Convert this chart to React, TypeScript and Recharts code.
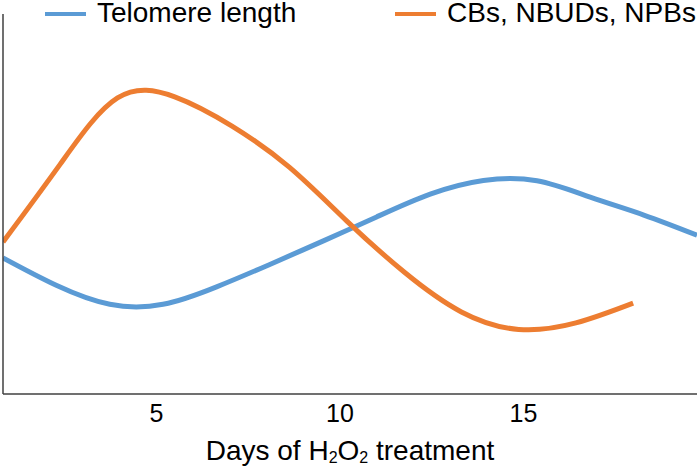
import { LineChart, Line, XAxis, YAxis, Legend } from 'recharts';

// readings taken at evenly spaced days so the natural spline stays a function of x
const telomereDays = [0.82, 2.27, 3.73, 5.18, 6.64, 8.09, 9.55, 11.0, 12.46, 13.91, 15.37, 16.82, 18.28, 19.73];
const telomere = [35.8, 28.6, 23.6, 23.6, 28.2, 34.1, 40.3, 46.6, 52.6, 56.2, 56.1, 51.8, 47.1, 41.8];
const damageDays = [0.82, 2.38, 3.94, 5.5, 7.06, 8.62, 10.19, 11.75, 13.31, 14.87, 16.43, 17.99];
const damage = [40.0, 60.5, 77.9, 78.2, 70.5, 59.7, 45.5, 32.1, 21.6, 17.0, 18.7, 23.9];
const xTicks = [5, 10, 15];
const seriesNames = ['Telomere length', 'CBs, NBUDs, NPBs'];
const COLORS = ['#5B9BD5', '#ED7D31'];

const FONT = '"Liberation Sans", Arial, sans-serif';

const telomereData = telomereDays.map((d, i) => ({ day: d, value: telomere[i] }));
const damageData = damageDays.map((d, i) => ({ day: d, value: damage[i] }));

// legend drawn across the very top of the picture
const TopLegend = () => (
  <div style={{ position: 'relative', height: 26, fontFamily: FONT, fontSize: 28, color: '#000', lineHeight: '22px' }}>
    {seriesNames.map((name, i) => (
      <div
        key={name}
        style={{ position: 'absolute', left: i === 0 ? 45 : 395, top: 2, display: 'flex', alignItems: 'center', whiteSpace: 'nowrap' }}
      >
        <span style={{ display: 'inline-block', width: 41, height: 4, background: COLORS[i], marginRight: 11, position: 'relative', top: 1 }} />
        <span>{name}</span>
      </div>
    ))}
  </div>
);

const AxisTitle = ({ viewBox }: any) => {
  const cx = viewBox.x + viewBox.width / 2;
  return (
    <text x={cx} y={viewBox.y + 66} textAnchor="middle" fontFamily={FONT} fontSize={28} fill="#000">
      Days of H
      <tspan fontSize={16} dy={3}>2</tspan>
      <tspan dy={-3}>O</tspan>
      <tspan fontSize={16} dy={3}>2</tspan>
      <tspan dy={-3}> treatment</tspan>
    </text>
  );
};

export default function App() {
  return (
    <div style={{ position: 'absolute', left: 0, top: 0, width: 700, height: 469, background: '#fff' }}>
      <LineChart width={700} height={469} margin={{ top: 14, right: 3, left: 2, bottom: 15 }}>
        <XAxis
          dataKey="day"
          type="number"
          domain={[0.82, 19.73]}
          ticks={xTicks}
          allowDataOverflow
          tickLine={false}
          tickSize={0}
          tickMargin={10}
          height={60}
          axisLine={{ stroke: '#404040', strokeWidth: 1.5 }}
          tick={{ fill: '#000', fontSize: 25, fontFamily: FONT }}
          label={<AxisTitle />}
        />
        <YAxis
          type="number"
          domain={[0, 100]}
          width={1}
          tick={false}
          tickLine={false}
          axisLine={{ stroke: '#404040', strokeWidth: 1.5 }}
        />
        <Legend
          layout="horizontal"
          verticalAlign="middle"
          align="center"
          wrapperStyle={{ top: 0, left: 0, width: 700, height: 26 }}
          content={() => <TopLegend />}
        />
        <Line
          data={telomereData}
          type="natural"
          dataKey="value"
          name={seriesNames[0]}
          stroke={COLORS[0]}
          strokeWidth={5}
          dot={false}
          isAnimationActive={false}
        />
        <Line
          data={damageData}
          type="natural"
          dataKey="value"
          name={seriesNames[1]}
          stroke={COLORS[1]}
          strokeWidth={5}
          dot={false}
          isAnimationActive={false}
        />
      </LineChart>
    </div>
  );
}
